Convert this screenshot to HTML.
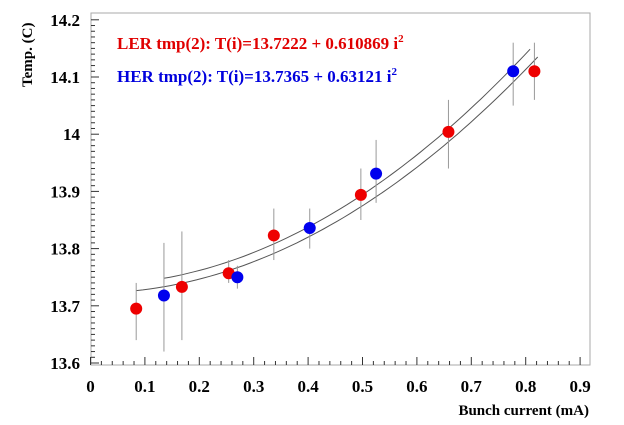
<!DOCTYPE html>
<html><head><meta charset="utf-8"><style>
body{margin:0;background:#fff;}
svg{display:block;}
svg text{font-family:"Liberation Serif",serif;font-weight:bold;}
</style></head><body>
<svg id="chart" width="624" height="425" viewBox="0 0 624 425" xmlns="http://www.w3.org/2000/svg" font-family="Liberation Serif, serif" font-weight="bold">
<rect x="91" y="13" width="499" height="352" fill="#fff" stroke="#aaa" stroke-width="1"/>
<g id="axes"></g>
<g id="fits"></g>
<g id="marks"></g>
<text x="117" y="49" fill="#e00000" font-size="17">LER tmp(2): T(i)=13.7222 + 0.610869 i<tspan dy="-7" font-size="11">2</tspan></text>
<text x="117" y="82" fill="#0000dd" font-size="17">HER tmp(2): T(i)=13.7365 + 0.63121 i<tspan dy="-7" font-size="11">2</tspan></text>
<text x="589" y="415" text-anchor="end" font-size="15">Bunch current (mA)</text>
<text transform="translate(32,87) rotate(-90)" font-size="15">Temp. (C)</text>
</svg>
<script>
const xTicks=[0,0.1,0.2,0.3,0.4,0.5,0.6,0.7,0.8,0.9];
const xTickLabels=["0","0.1","0.2","0.3","0.4","0.5","0.6","0.7","0.8","0.9"];
const yTicks=[13.6,13.7,13.8,13.9,14.0,14.1,14.2];
const yTickLabels=["13.6","13.7","13.8","13.9","14","14.1","14.2"];
const lerX=[0.084,0.168,0.254,0.337,0.497,0.658,0.816];
const lerY=[13.695,13.733,13.757,13.823,13.894,14.004,14.110];
const lerLo=[13.64,13.64,13.74,13.78,13.85,13.94,14.06];
const lerHi=[13.74,13.83,13.78,13.87,13.94,14.06,14.16];
const herX=[0.135,0.270,0.403,0.525,0.777];
const herY=[13.718,13.750,13.836,13.931,14.110];
const herLo=[13.62,13.73,13.80,13.88,14.05];
const herHi=[13.81,13.77,13.87,13.99,14.16];
const lerFit=[13.7222,0.610869];
const herFit=[13.7365,0.63121];
const NS="http://www.w3.org/2000/svg";
const sx=v=>90.5+v*544;
const sy=v=>363-(v-13.6)*572;
function mk(tag,attrs,parent){const e=document.createElementNS(NS,tag);for(const k in attrs)e.setAttribute(k,attrs[k]);document.getElementById(parent).appendChild(e);return e;}
xTicks.forEach((t,i)=>{
 const l=mk('line',{x1:sx(t),x2:sx(t),y1:365,y2:357,stroke:'#333'},'axes');
 
 
 const tx=mk('text',{x:sx(t),y:392,'text-anchor':'middle','font-size':17},'axes');tx.textContent=xTickLabels[i];
 
 
 if(i<9)for(let k=1;k<5;k++)mk('line',{x1:sx(t+k*0.02),x2:sx(t+k*0.02),y1:365,y2:361,stroke:'#333'},'axes');
});
yTicks.forEach((t,i)=>{
 const l=mk('line',{x1:91,x2:99,y1:sy(t),y2:sy(t),stroke:'#333'},'axes');
 
 
 const tx=mk('text',{x:80,y:sy(t)+6,'text-anchor':'end','font-size':17},'axes');tx.textContent=yTickLabels[i];
 
 
 if(i<6)for(let k=1;k<10;k++)mk('line',{x1:91,x2:95,y1:sy(t+k*0.01),y2:sy(t+k*0.01),stroke:'#333'},'axes');
});
function fit(p,x0,x1,name){let d='';for(let j=0;j<=60;j++){const x=x0+(x1-x0)*j/60;d+=(j?'L':'M')+sx(x).toFixed(1)+','+sy(p[0]+p[1]*x*x).toFixed(1);}
 const e=mk('path',{d:d,fill:'none',stroke:'#555','stroke-width':1},'fits');
 
 }
fit(lerFit,lerX[0],0.822,'ler-fit-curve');
fit(herFit,herX[0],0.808,'her-fit-curve');
function series(xs,ys,lo,hi,col,name){xs.forEach((x,i)=>{
 const l=mk('line',{x1:sx(x),x2:sx(x),y1:sy(lo[i]),y2:sy(hi[i]),stroke:'#999'},'marks');
 
 
 const c=mk('circle',{cx:sx(x),cy:sy(ys[i]),r:6,fill:col},'marks');
 
 
});}
series(lerX,lerY,lerLo,lerHi,'#ee0000','ler');
series(herX,herY,herLo,herHi,'#0000ee','her');
</script>
</body></html>
